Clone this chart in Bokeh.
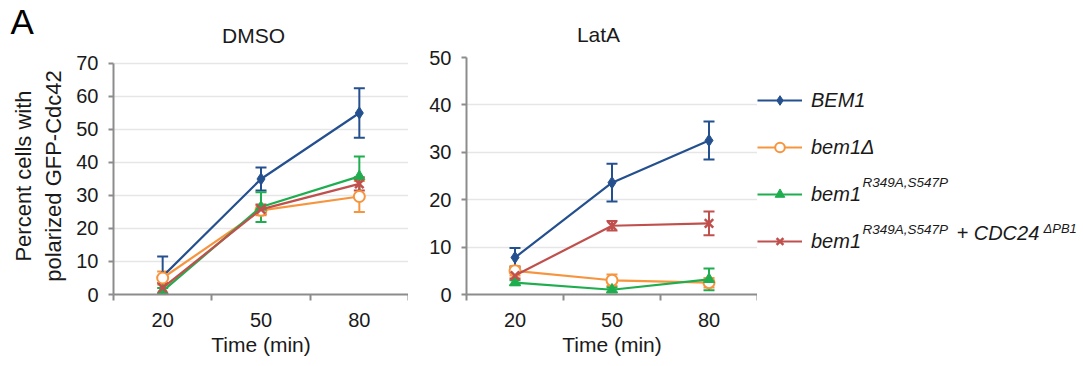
import numpy as np
from bokeh.plotting import figure
from bokeh.layouts import row, column
from bokeh.models import (Range1d, FixedTicker, Whisker, TeeHead, ColumnDataSource,
                          Legend, LegendItem, Label)
from bokeh.embed import file_html
from bokeh.resources import INLINE

# ---------------- data ----------------
times = ["20", "50", "80"]
panel_titles = ["DMSO", "LatA"]
series_names = ["BEM1", "bem1\u0394", "bem1", "bem1"]
series_sup = ["", "", "R349A,S547P", "R349A,S547P"]
extra_text = "+ CDC24"
extra_sup = "\u0394PB1"

dmso_bem1 = [5.5, 35.0, 55.0]
dmso_bem1_err = [6.0, 3.5, 7.5]
dmso_del = [5.0, 25.5, 29.7]
dmso_del_err = [2.0, 1.5, 4.7]
dmso_mut = [1.0, 26.5, 35.8]
dmso_mut_err = [1.0, 4.5, 6.0]
dmso_cdc = [2.0, 25.8, 33.5]
dmso_cdc_err = [1.5, 1.5, 2.0]

lata_bem1 = [7.8, 23.6, 32.5]
lata_bem1_err = [2.0, 4.0, 4.0]
lata_del = [5.0, 3.0, 2.5]
lata_del_err = [1.0, 1.2, 1.0]
lata_mut = [2.5, 1.0, 3.2]
lata_mut_err = [0.5, 0.5, 2.3]
lata_cdc = [4.0, 14.5, 15.0]
lata_cdc_err = [0.6, 1.0, 2.5]

dmso_ticks = [0, 10, 20, 30, 40, 50, 60, 70]
lata_ticks = [0, 10, 20, 30, 40, 50]

# ---------------- styles ----------------
colors = ["#24508F", "#F7953E", "#1FAE4F", "#C0504D"]
markers = ["diamond", "circle", "triangle", "x"]
msizes = [12, 11, 11, 12]
FONT = "Liberation Sans"
AXIS_COL = "#8C8C8C"
GRID_COL = "#E6E6E6"
TXT = "#1A1A1A"

xpos = np.arange(len(times)) + 0.5

# frames of the two panels share top/bottom (Bokeh aligns them in a row);
# the DMSO axis tops out slightly below the frame top
FRAME_H = 238
DMSO_AXIS_H = 232
STRIP_H = 52
OVERLAP = 8
ROW_H = 358 - STRIP_H + OVERLAP
TOP_B = 57 - (STRIP_H - OVERLAP)
BOT_B = ROW_H - TOP_B - FRAME_H


def blank_fig(width, height, x0, x1, y0, y1, top=0, bottom=0):
    p = figure(width=width, height=height, output_backend="svg", toolbar_location=None,
               x_range=Range1d(x0, x1), y_range=Range1d(y0, y1),
               min_border_left=0, min_border_right=0, min_border_top=top,
               min_border_bottom=bottom,
               x_axis_location=None, y_axis_location=None)
    p.outline_line_color = None
    p.grid.visible = False
    return p


def make_fig(ytop, yticks, width, height, bl, br, bt, bb, ylabel):
    p = figure(width=width, height=height, output_backend="svg", toolbar_location=None,
               x_range=Range1d(0, len(times)), y_range=Range1d(0, ytop),
               min_border_left=bl, min_border_right=br, min_border_top=bt,
               min_border_bottom=bb)
    p.outline_line_color = None
    p.border_fill_alpha = 0
    p.xgrid.grid_line_color = None
    p.ygrid.grid_line_color = GRID_COL
    p.ygrid.grid_line_width = 1.5

    p.xaxis.ticker = FixedTicker(ticks=list(xpos),
                                 minor_ticks=list(range(len(times) + 1)))
    p.xaxis.major_label_overrides = {float(v): t for v, t in zip(xpos, times)}
    p.xaxis.major_tick_line_color = None
    p.xaxis.major_tick_out = 6
    p.xaxis.minor_tick_line_color = AXIS_COL
    p.xaxis.minor_tick_line_width = 2
    p.xaxis.minor_tick_out = 6
    p.xaxis.minor_tick_in = 0
    p.xaxis.axis_label = "Time (min)"
    p.xaxis.major_label_standoff = 12
    p.xaxis.axis_label_standoff = 3

    p.yaxis.ticker = FixedTicker(ticks=yticks)
    p.yaxis.bounds = (yticks[0], yticks[-1])
    p.yaxis.minor_tick_line_color = None
    p.yaxis.major_tick_line_color = AXIS_COL
    p.yaxis.major_tick_line_width = 2
    p.yaxis.major_tick_out = 5
    p.yaxis.major_tick_in = 0
    p.yaxis.major_label_standoff = 10
    if ylabel:
        p.yaxis.axis_label = ylabel
        p.yaxis.axis_label_standoff = 7
        p.yaxis.axis_label_text_font_size = "22px"

    for ax in (p.xaxis, p.yaxis):
        ax.axis_line_color = AXIS_COL
        ax.axis_line_width = 2
        ax.major_label_text_font = FONT
        ax.major_label_text_font_size = "20px"
        ax.major_label_text_color = TXT
        ax.axis_label_text_font = FONT
        ax.axis_label_text_font_style = "normal"
        ax.axis_label_text_color = TXT
    p.xaxis.axis_label_text_font_size = "21px"
    return p


def style_marker(p, xs, ys, i):
    c = colors[i]
    if markers[i] == "circle":
        return p.scatter(xs, ys, marker="circle", size=msizes[i], fill_color="white",
                         line_color=c, line_width=2)
    if markers[i] == "x":
        return p.scatter(xs, ys, marker="x", size=msizes[i], line_color=c, line_width=2.5)
    return p.scatter(xs, ys, marker=markers[i], size=msizes[i], fill_color=c,
                     line_color=c, line_width=1)


def add_series(p, vals, errs, i):
    c = colors[i]
    vals = np.array(vals, dtype=float)
    errs = np.array(errs, dtype=float)
    p.line(xpos, vals, line_color=c, line_width=2.2)
    style_marker(p, xpos, vals, i)
    src = ColumnDataSource(dict(base=xpos, upper=vals + errs,
                                lower=np.maximum(vals - errs, 0)))
    w = Whisker(source=src, base="base", upper="upper", lower="lower",
                line_color=c, line_width=2,
                upper_head=TeeHead(size=11, line_color=c, line_width=2),
                lower_head=TeeHead(size=11, line_color=c, line_width=2))
    p.add_layout(w)


# ---------------- layout pieces ----------------
# top strip (panel letter + panel titles), data units = pixels
strip = blank_fig(1080, STRIP_H, 0, 1080, STRIP_H, 0)
strip.margin = (0, 0, -OVERLAP, 0)
strip.add_layout(Label(x=10, y=1, text="A", text_font=FONT, text_font_size="35px",
                       text_baseline="top", text_color="#000000"))
strip.add_layout(Label(x=253, y=46, text=panel_titles[0], text_font=FONT,
                       text_font_size="21px", text_color=TXT, text_align="center"))
strip.add_layout(Label(x=598, y=45, text=panel_titles[1], text_font=FONT,
                       text_font_size="21px", text_color=TXT, text_align="center"))

p1 = make_fig(dmso_ticks[-1] * FRAME_H / DMSO_AXIS_H, dmso_ticks, 408, ROW_H, 113, 0,
              TOP_B, BOT_B, "Percent cells with\npolarized GFP-Cdc42")
p2 = make_fig(lata_ticks[-1], lata_ticks, 349, ROW_H, 58, 0, TOP_B, BOT_B, None)

dmso = [(dmso_bem1, dmso_bem1_err), (dmso_del, dmso_del_err),
        (dmso_mut, dmso_mut_err), (dmso_cdc, dmso_cdc_err)]
lata = [(lata_bem1, lata_bem1_err), (lata_del, lata_del_err),
        (lata_mut, lata_mut_err), (lata_cdc, lata_cdc_err)]

for i, (v, e) in enumerate(dmso):
    add_series(p1, v, e, i)
for i, (v, e) in enumerate(lata):
    add_series(p2, v, e, i)

# legend panel; frame spans page y 57..295, data units = page pixels
pleg = blank_fig(323, ROW_H, 757, 1080, 295, 57, top=TOP_B, bottom=BOT_B)
pleg.border_fill_alpha = 0
items = []
for i in range(len(series_names)):
    lr = pleg.line(x=[np.nan], y=[np.nan], line_color=colors[i], line_width=2.2)
    mr = style_marker(pleg, [np.nan], [np.nan], i)
    items.append(LegendItem(label=series_names[i], renderers=[lr, mr]))

legend = Legend(items=items, location=(0, 41), margin=0, padding=5,
                glyph_width=45, glyph_height=24, label_height=24, spacing=23,
                label_standoff=9, border_line_color=None, background_fill_alpha=0,
                label_text_font=FONT, label_text_font_size="20px",
                label_text_font_style="italic", label_text_color=TXT)
pleg.add_layout(legend)

sup_style = dict(text_font=FONT, text_font_size="13.5px", text_font_style="italic",
                 text_color=TXT)
pleg.add_layout(Label(x=862, y=190, text=series_sup[2], **sup_style))
pleg.add_layout(Label(x=862, y=237, text=series_sup[3], **sup_style))
pleg.add_layout(Label(x=956, y=244, text=extra_text, text_font=FONT,
                      text_font_size="20px", text_font_style="italic", text_color=TXT))
pleg.add_layout(Label(x=1043, y=236, text=extra_sup, text_font=FONT,
                      text_font_size="13px", text_font_style="italic", text_color=TXT))

layout = column(strip, row(p1, p2, pleg))
open("out.html", "w").write(file_html(layout, INLINE))
